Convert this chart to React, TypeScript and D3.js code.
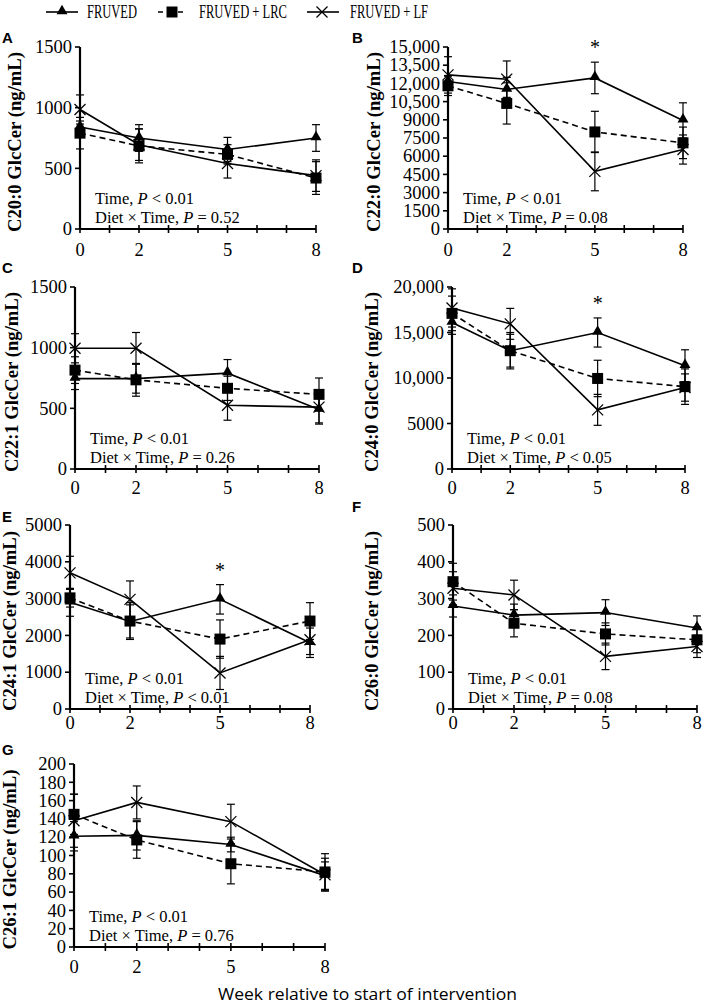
import React from "react";
import * as d3 from "d3";

// ---------- data ----------
const weeks = [0, 2, 5, 8];
const legendNames = ["FRUVED", "FRUVED + LRC", "FRUVED + LF"];
const letters = ["A", "B", "C", "D", "E", "F", "G"];
const yTitles = [
  "C20:0 GlcCer (ng/mL)",
  "C22:0 GlcCer (ng/mL)",
  "C22:1 GlcCer (ng/mL)",
  "C24:0 GlcCer (ng/mL)",
  "C24:1 GlcCer (ng/mL)",
  "C26:0 GlcCer (ng/mL)",
  "C26:1 GlcCer (ng/mL)",
];
const interactionP = ["= 0.52", "= 0.08", "= 0.26", "< 0.05", "< 0.01", "= 0.08", "= 0.76"];
const starPanels = [false, true, false, true, true, false, false];

const ticksA = [0, 500, 1000, 1500];
const ticksB = [0, 1500, 3000, 4500, 6000, 7500, 9000, 10500, 12000, 13500, 15000];
const ticksC = [0, 500, 1000, 1500];
const ticksD = [0, 5000, 10000, 15000, 20000];
const ticksE = [0, 1000, 2000, 3000, 4000, 5000];
const ticksF = [0, 100, 200, 300, 400, 500];
const ticksG = [0, 20, 40, 60, 80, 100, 120, 140, 160, 180, 200];

// A: C20:0
const aFruved = [840, 750, 655, 750];
const aFruvedErr = [50, 110, 100, 110];
const aLrc = [790, 685, 615, 420];
const aLrcErr = [130, 140, 80, 135];
const aLf = [985, 695, 540, 440];
const aLfErr = [120, 130, 120, 130];
// B: C22:0
const bFruved = [12150, 11500, 12450, 8950];
const bFruvedErr = [500, 1000, 1300, 1450];
const bLrc = [11800, 10350, 8000, 7100];
const bLrcErr = [800, 1700, 1700, 1300];
const bLf = [12700, 12350, 4750, 6550];
const bLfErr = [1500, 1500, 1600, 1200];
// C: C22:1
const cFruved = [745, 745, 790, 490];
const cFruvedErr = [90, 120, 112, 120];
const cLrc = [815, 735, 665, 615];
const cLrcErr = [110, 135, 100, 135];
const cLf = [995, 995, 525, 510];
const cLfErr = [120, 130, 123, 130];
// D: C24:0
const dFruved = [16100, 13000, 15000, 11350];
const dFruvedErr = [1300, 1800, 1600, 1750];
const dLrc = [17100, 13000, 9950, 9050];
const dLrcErr = [1900, 2000, 2000, 1950];
const dLf = [17700, 15950, 6500, 8950];
const dLfErr = [2100, 1700, 1700, 1500];
// E: C24:1
const eFruved = [2900, 2380, 2980, 1800];
const eFruvedErr = [380, 450, 400, 400];
const eLrc = [3020, 2390, 1900, 2390];
const eLrcErr = [250, 500, 520, 500];
const eLf = [3700, 2980, 980, 1880];
const eLfErr = [450, 500, 450, 400];
// F: C26:0
const fFruved = [280, 255, 262, 220];
const fFruvedErr = [30, 30, 35, 33];
const fLrc = [346, 233, 204, 188];
const fLrcErr = [50, 37, 30, 35];
const fLf = [328, 310, 143, 170];
const fLfErr = [45, 40, 36, 30];
// G: C26:1
const gFruved = [121, 122, 112, 78];
const gFruvedErr = [16, 16, 8, 15];
const gLrc = [145, 117, 91, 82];
const gLrcErr = [22, 20, 22, 20];
const gLf = [138, 158, 137, 79];
const gLfErr = [29, 18, 19, 18];

// ---------- layout ----------
const layout = [
  { x0: 80, x8: 316, yTop: 47, yBot: 229, labX: 15, lblDy: 27, letterX: 2, letterY: 43 },
  { x0: 448, x8: 683, yTop: 47, yBot: 229, labX: 374, lblDy: 27, letterX: 352, letterY: 43 },
  { x0: 75, x8: 319, yTop: 287, yBot: 469, labX: 12, lblDy: 25, letterX: 2, letterY: 273 },
  { x0: 452, x8: 685, yTop: 287, yBot: 469, labX: 372, lblDy: 25, letterX: 352, letterY: 273 },
  { x0: 70, x8: 310, yTop: 525, yBot: 709, labX: 10, lblDy: 20, letterX: 2, letterY: 522 },
  { x0: 453, x8: 697, yTop: 525, yBot: 709, labX: 372, lblDy: 20, letterX: 352, letterY: 512 },
  { x0: 74, x8: 325, yTop: 764, yBot: 947, labX: 10, lblDy: 26, letterX: 2, letterY: 755 },
];

const panelData = [
  { ticks: ticksA, s: [[aFruved, aFruvedErr], [aLrc, aLrcErr], [aLf, aLfErr]] },
  { ticks: ticksB, s: [[bFruved, bFruvedErr], [bLrc, bLrcErr], [bLf, bLfErr]] },
  { ticks: ticksC, s: [[cFruved, cFruvedErr], [cLrc, cLrcErr], [cLf, cLfErr]] },
  { ticks: ticksD, s: [[dFruved, dFruvedErr], [dLrc, dLrcErr], [dLf, dLfErr]] },
  { ticks: ticksE, s: [[eFruved, eFruvedErr], [eLrc, eLrcErr], [eLf, eLfErr]] },
  { ticks: ticksF, s: [[fFruved, fFruvedErr], [fLrc, fLrcErr], [fLf, fLfErr]] },
  { ticks: ticksG, s: [[gFruved, gFruvedErr], [gLrc, gLrcErr], [gLf, gLfErr]] },
];

const SERIF = "'Liberation Serif', 'Times New Roman', serif";
const SANS = "'Liberation Sans', Arial, sans-serif";
const fmt = (v: number) => (v >= 10000 ? d3.format(",")(v) : String(v));

const triPath = d3.symbol(d3.symbolTriangle, 52)()!;
const sqPath = d3.symbol(d3.symbolSquare, 121)()!;

function Marker({ kind, x, y }: { kind: number; x: number; y: number }) {
  if (kind === 0) return <path d={triPath} transform={`translate(${x},${y - 1})`} fill="#000" />;
  if (kind === 1) return <path d={sqPath} transform={`translate(${x},${y})`} fill="#000" />;
  const r = 5.5;
  return (
    <g stroke="#000" strokeWidth={1.3}>
      <line x1={x - r} y1={y - r} x2={x + r} y2={y + r} />
      <line x1={x - r} y1={y + r} x2={x + r} y2={y - r} />
    </g>
  );
}

function Panel({ idx }: { idx: number }) {
  const L = layout[idx];
  const D = panelData[idx];
  const yMax = D.ticks[D.ticks.length - 1];
  const x = d3.scaleLinear().domain([0, 8]).range([L.x0, L.x8]);
  const y = d3.scaleLinear().domain([0, yMax]).range([L.yBot, L.yTop]);
  const line = d3
    .line<number>()
    .x((_, i) => x(weeks[i]))
    .y((v) => y(v));
  const minor = d3.range(0, 9);
  return (
    <g>
      <text x={L.letterX} y={L.letterY} fontFamily={SANS} fontWeight="bold" fontSize={15}>
        {letters[idx]}
      </text>
      {/* y title */}
      <text
        transform={`translate(${L.labX},${(L.yTop + L.yBot) / 2 + 4}) rotate(-90)`}
        textAnchor="middle"
        dominantBaseline="central"
        fontFamily={SERIF}
        fontWeight="bold"
        fontSize={18}
        textLength={180}
        lengthAdjust="spacingAndGlyphs"
      >
        {yTitles[idx]}
      </text>
      {/* axes */}
      <line x1={L.x0} x2={L.x0} y1={L.yTop} y2={L.yBot} stroke="#000" strokeWidth={2.2} />
      <line x1={L.x0} x2={L.x8} y1={L.yBot} y2={L.yBot} stroke="#000" strokeWidth={2.2} />
      {D.ticks.map((t) => (
        <g key={t}>
          <line x1={L.x0 - 5} x2={L.x0} y1={y(t)} y2={y(t)} stroke="#000" strokeWidth={1.6} />
          <text x={L.x0 - 8} y={y(t)} dy="0.34em" textAnchor="end" fontFamily={SERIF} fontSize={18.5}>
            {fmt(t)}
          </text>
        </g>
      ))}
      {minor.map((w) => (
        <line key={w} x1={x(w)} x2={x(w)} y1={L.yBot - 4} y2={L.yBot + 4} stroke="#000" strokeWidth={1.6} />
      ))}
      {weeks.map((w) => (
        <text key={w} x={x(w)} y={L.yBot + L.lblDy} textAnchor="middle" fontFamily={SERIF} fontSize={18.5}>
          {w}
        </text>
      ))}
      {/* error bars */}
      {D.s.map(([vals, errs], si) =>
        vals.map((v, i) => (
          <g key={`e${si}-${i}`} stroke="#000" strokeWidth={1.2}>
            <line x1={x(weeks[i])} x2={x(weeks[i])} y1={y(v - errs[i])} y2={y(v + errs[i])} />
            <line x1={x(weeks[i]) - 4} x2={x(weeks[i]) + 4} y1={y(v + errs[i])} y2={y(v + errs[i])} />
            <line x1={x(weeks[i]) - 4} x2={x(weeks[i]) + 4} y1={y(v - errs[i])} y2={y(v - errs[i])} />
          </g>
        ))
      )}
      {/* lines */}
      {D.s.map(([vals], si) => (
        <path
          key={`l${si}`}
          d={line(vals)!}
          fill="none"
          stroke="#000"
          strokeWidth={1.6}
          strokeDasharray={si === 1 ? "6,4" : undefined}
        />
      ))}
      {/* markers */}
      {D.s.map(([vals], si) =>
        vals.map((v, i) => <Marker key={`m${si}-${i}`} kind={si} x={x(weeks[i])} y={y(v)} />)
      )}
      {starPanels[idx] && (
        <text
          x={x(5)}
          y={y(D.s[0][0][2] + D.s[0][1][2]) - 8}
          textAnchor="middle"
          fontFamily={SERIF}
          fontSize={20}
        >
          *
        </text>
      )}
      {/* annotation */}
      <text x={L.x0 + 15} y={L.yBot - 25} fontFamily={SERIF} fontSize={16.5}>
        Time, <tspan fontStyle="italic">P</tspan> {"< 0.01"}
      </text>
      <text x={L.x0 + 15} y={L.yBot - 6} fontFamily={SERIF} fontSize={16.5}>
        Diet × Time, <tspan fontStyle="italic">P</tspan> {interactionP[idx]}
      </text>
    </g>
  );
}

function Legend() {
  const items = [
    { x1: 46, x2: 78, mx: 62, tx: 87, tl: 50 },
    { x1: 158, x2: 185, mx: 172, tx: 199, tl: 88 },
    { x1: 307, x2: 339, mx: 322, tx: 350, tl: 78 },
  ];
  return (
    <g>
      {items.map((it, i) => (
        <g key={i}>
          <line x1={it.x1} x2={it.x2} y1={12} y2={12} stroke="#000" strokeWidth={1.6} strokeDasharray={i === 1 ? "5,5" : undefined} />
          <Marker kind={i} x={it.mx} y={12} />
          <text x={it.tx} y={17.5} fontFamily={SERIF} fontSize={18} textLength={it.tl} lengthAdjust="spacingAndGlyphs">
            {legendNames[i]}
          </text>
        </g>
      ))}
    </g>
  );
}

export default function App() {
  return (
    <svg
      width={709}
      height={1006}
      style={{ position: "absolute", left: 0, top: 0, background: "#fff" }}
    >
      <rect width={709} height={1006} fill="#fff" />
      <Legend />
      {letters.map((_, i) => (
        <Panel key={i} idx={i} />
      ))}
      <text x={218} y={1000} fontFamily="'Open Sans', 'Noto Sans', sans-serif" fontSize={17} textLength={299} lengthAdjust="spacingAndGlyphs">
        Week relative to start of intervention
      </text>
    </svg>
  );
}
